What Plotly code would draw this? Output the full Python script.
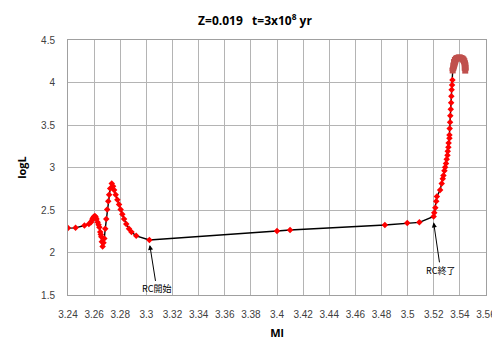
import plotly.graph_objects as go

# Main track (Ml, logL)
ml_main = [3.2400, 3.2458, 3.2526, 3.2560, 3.2576, 3.2584, 3.2589, 3.2595, 3.2600, 3.2606,
           3.2612, 3.2618, 3.2627, 3.2634, 3.2640, 3.2647, 3.2651, 3.2655, 3.2659, 3.2665,
           3.2672, 3.2678, 3.2685, 3.2693, 3.2700, 3.2708, 3.2715, 3.2723, 3.2735,
           3.2745, 3.2753, 3.2765, 3.2778, 3.2791, 3.2803, 3.2816, 3.2829, 3.2846,
           3.2867, 3.2886, 3.2922, 3.3023,
           3.4000, 3.4100, 3.4826, 3.4997, 3.5090, 3.5199,
           3.5204, 3.5212, 3.5219, 3.5224, 3.5249, 3.5261, 3.5269, 3.5274, 3.5282,
           3.5287, 3.5294, 3.5299, 3.5305, 3.5307, 3.5312, 3.5314, 3.5320, 3.5320,
           3.5322, 3.5325, 3.5327, 3.5330, 3.5333, 3.5335, 3.5337, 3.5340, 3.5343, 3.5345]
logl_main = [2.287, 2.290, 2.318, 2.335, 2.355, 2.380, 2.401, 2.415, 2.424, 2.430,
             2.418, 2.395, 2.355, 2.325, 2.298, 2.241, 2.212, 2.184, 2.127, 2.070,
             2.115, 2.165, 2.279, 2.393, 2.507, 2.603, 2.678, 2.754, 2.811,
             2.780, 2.735, 2.678, 2.621, 2.564, 2.507, 2.450, 2.393, 2.336,
             2.279, 2.241, 2.196, 2.147,
             2.253, 2.264, 2.324, 2.347, 2.355, 2.424,
             2.469, 2.526, 2.603, 2.660, 2.735, 2.811, 2.868, 2.906, 2.963,
             3.002, 3.047, 3.096, 3.145, 3.191, 3.237, 3.287, 3.344, 3.381,
             3.458, 3.533, 3.609, 3.686, 3.761, 3.837, 3.914, 3.970, 4.028, 4.142]

# Final dense hook
ml_hook = [3.5345, 3.5350, 3.5355, 3.5362, 3.5370, 3.5380, 3.5390, 3.5400, 3.5410,
           3.5420, 3.5428, 3.5434, 3.5438, 3.5440, 3.5441, 3.5441]
logl_hook = [4.142, 4.200, 4.240, 4.265, 4.280, 4.288, 4.292, 4.292, 4.288,
             4.280, 4.268, 4.250, 4.225, 4.200, 4.170, 4.140]

x_ticks = [3.24, 3.26, 3.28, 3.30, 3.32, 3.34, 3.36, 3.38, 3.40, 3.42, 3.44,
           3.46, 3.48, 3.50, 3.52, 3.54, 3.56]

fig = go.Figure()
fig.add_trace(go.Scatter(
    x=ml_main, y=logl_main, mode="lines+markers",
    line=dict(color="black", width=1.4),
    marker=dict(symbol="diamond", size=5, color="#ff0000"),
    showlegend=False))
fig.add_trace(go.Scatter(
    x=ml_hook, y=logl_hook, mode="lines+markers",
    line=dict(color="#c0504d", width=7),
    marker=dict(symbol="square", size=6, color="#c0504d"),
    showlegend=False))

fig.add_annotation(x=3.3026, y=2.089, xref="x", yref="y", text="RC開始",
                   showarrow=True, ax=7, ay=44, arrowhead=2, arrowsize=1,
                   arrowwidth=1, arrowcolor="black",
                   font=dict(size=9, color="black", family="Noto Sans CJK JP"))
fig.add_annotation(x=3.5199, y=2.355, xref="x", yref="y", text="RC終了",
                   showarrow=True, ax=7, ay=48, arrowhead=2, arrowsize=1,
                   arrowwidth=1, arrowcolor="black",
                   font=dict(size=9, color="black", family="Noto Sans CJK JP"))

fig.update_layout(
    width=500, height=342,
    margin=dict(l=60, r=17, t=32, b=47),
    paper_bgcolor="white", plot_bgcolor="white",
    font=dict(family="Liberation Sans", size=10, color="#404040"),
    title=dict(text="<b>Z=0.019   t=3x10<sup>8</sup> yr</b>", x=0.494, xanchor="center",
               y=0.962, yanchor="middle", font=dict(size=12, color="black", family="Open Sans")),
    xaxis=dict(range=[3.24, 3.56], tickvals=x_ticks,
               ticktext=[("%g" % v) for v in x_ticks],
               showgrid=True, gridcolor="#b4b4b4", gridwidth=1,
               showline=True, linecolor="#a0a0a0", mirror=True,
               ticks="", ticklabelstandoff=10, zeroline=False,
               title=dict(text="<b>Ml</b>", standoff=10,
                          font=dict(size=11, color="black", family="Open Sans"))),
    yaxis=dict(range=[1.5, 4.5], dtick=0.5,
               showgrid=True, gridcolor="#b4b4b4", gridwidth=1,
               showline=True, linecolor="#a0a0a0", mirror=True,
               ticks="", ticklabelstandoff=10, zeroline=False,
               title=dict(text="<b>logL</b>", standoff=12,
                          font=dict(size=11, color="black", family="Open Sans"))),
)

fig.write_html("out.html")
